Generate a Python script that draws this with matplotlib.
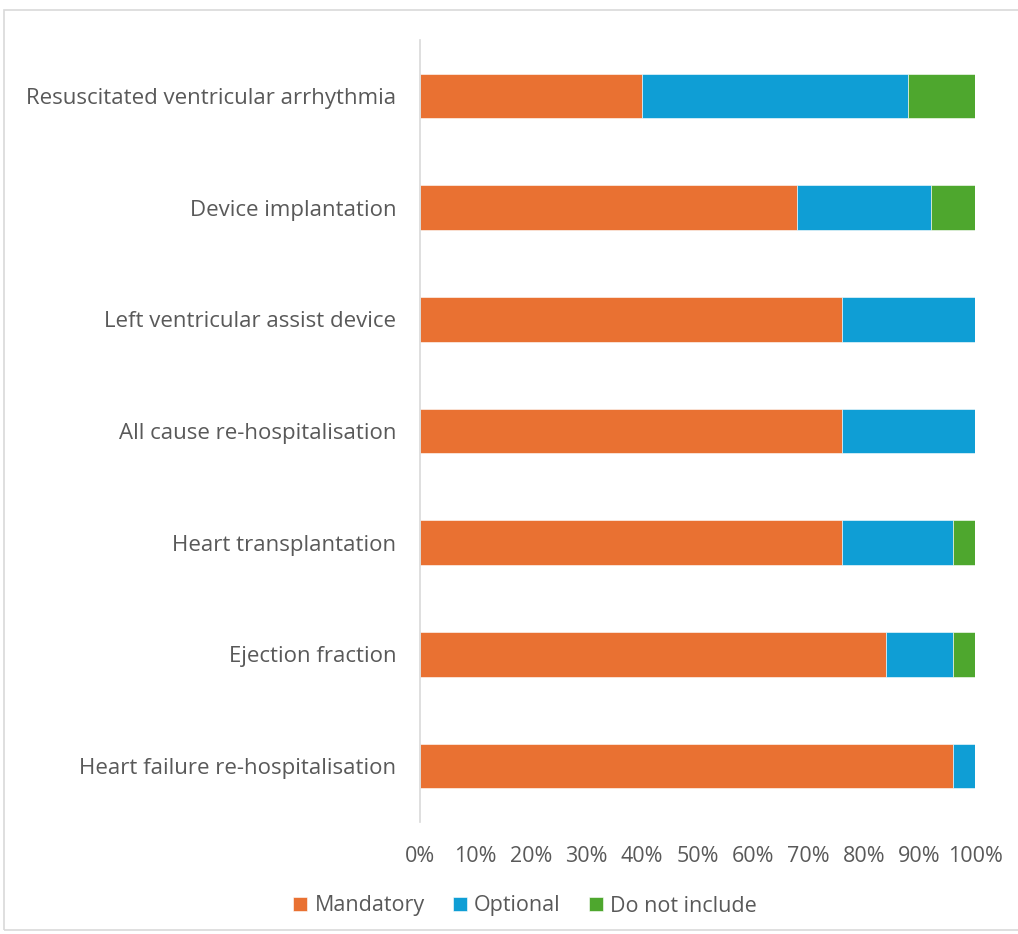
import matplotlib
matplotlib.use("Agg")
import matplotlib.pyplot as plt
from matplotlib.patches import Rectangle
from matplotlib.ticker import FuncFormatter, MultipleLocator
import numpy as np

plt.rcParams['font.family'] = ['Open Sans', 'DejaVu Sans']

categories = [
    "Resuscitated ventricular arrhythmia",
    "Device implantation",
    "Left ventricular assist device",
    "All cause re-hospitalisation",
    "Heart transplantation",
    "Ejection fraction",
    "Heart failure re-hospitalisation",
]
mandatory = [40, 68, 76, 76, 76, 84, 96]
optional = [48, 24, 24, 24, 20, 12, 4]
do_not_include = [12, 8, 0, 0, 4, 4, 0]

series_names = ["Mandatory", "Optional", "Do not include"]
colors = ["#E97132", "#0F9ED5", "#4EA72E"]
text_color = "#595959"

fig = plt.figure(figsize=(10.18, 9.34), dpi=100)

# outer chart frame
fig.patches.append(Rectangle((4 / 1018, 4 / 934), 1.2, 1 - 14 / 934,
                             transform=fig.transFigure, fill=False,
                             edgecolor="#D9D9D9", linewidth=1.2))

ax = fig.add_axes([420 / 1018, 1 - 822 / 934, 555 / 1018, 782 / 934])

y = np.arange(len(categories))
left = np.zeros(len(categories))
for name, vals, c in zip(series_names, [mandatory, optional, do_not_include], colors):
    vals = np.array(vals, dtype=float)
    ax.barh(y, vals, left=left, height=0.4, color=c, label=name,
            edgecolor="white", linewidth=0.4)
    left += vals

ax.set_xlim(0, 100)
ax.set_ylim(len(categories) - 0.5, -0.5)
ax.set_yticks(y)
ax.set_yticklabels(categories)
ax.xaxis.set_major_locator(MultipleLocator(10))
ax.xaxis.set_major_formatter(FuncFormatter(lambda v, p: f"{int(v)}%"))

for s in ["top", "right", "bottom"]:
    ax.spines[s].set_visible(False)
ax.spines["left"].set_color("#D9D9D9")
ax.spines["left"].set_linewidth(1.2)
ax.tick_params(axis="both", length=0, colors=text_color)
ax.tick_params(axis="y", pad=17, labelsize=16)
ax.tick_params(axis="x", pad=17, labelsize=15.5)

ax.legend(loc="center", bbox_to_anchor=(525 / 1018, 1 - 906 / 934),
          bbox_transform=fig.transFigure, ncol=3, frameon=False,
          fontsize=15.5, handlelength=0.65, handleheight=0.65,
          handletextpad=0.35, columnspacing=1.3, labelcolor=text_color)

fig.savefig("out.png", dpi=100, facecolor="white")
